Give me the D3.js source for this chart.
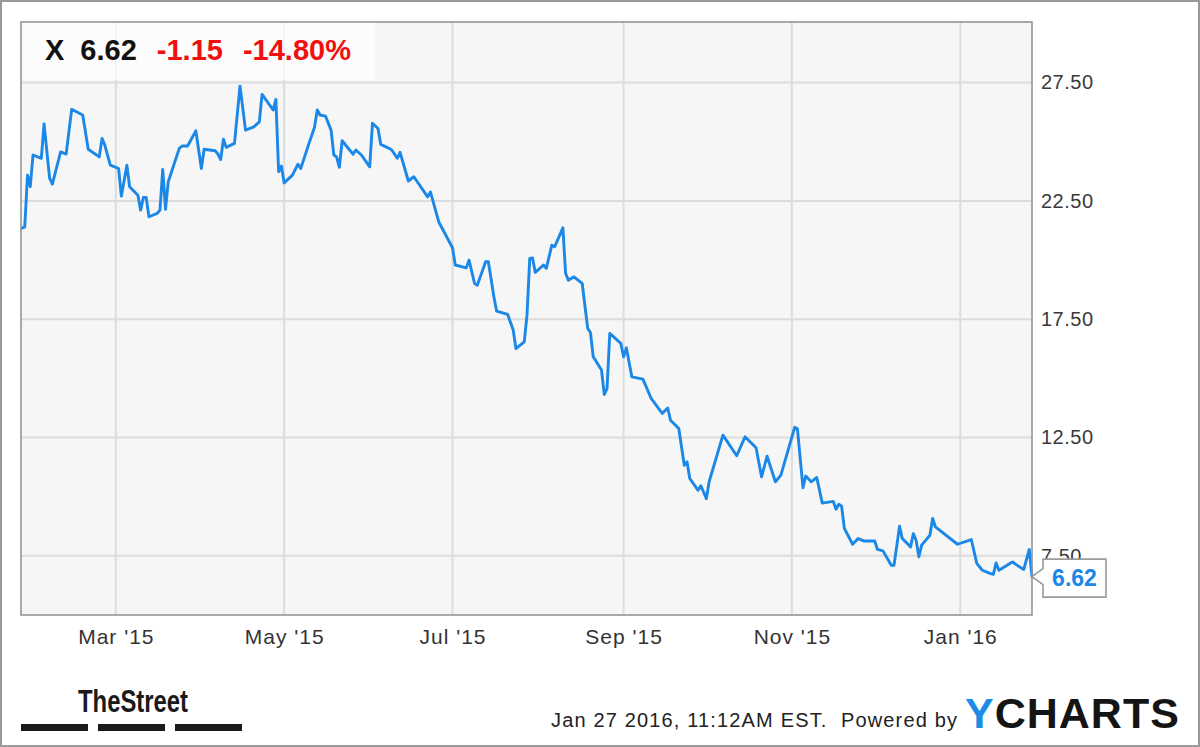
<!DOCTYPE html>
<html><head><meta charset="utf-8">
<script src="https://cdn.jsdelivr.net/npm/d3@7"></script>
<style>
body{margin:0;background:#fff}
svg{display:block}
text{font-family:"Liberation Sans",Arial,Helvetica,sans-serif}
</style></head>
<body><svg id="c" width="1200" height="747"></svg>
<script>
// ---- data ----
const ticker = "X";
const lastPriceLabel = "6.62";
const changeLabel = "-1.15";
const changePctLabel = "-14.80%";
const yTicks = [7.5, 12.5, 17.5, 22.5, 27.5];
const xTicks = ["2015-03-01","2015-05-01","2015-07-01","2015-09-01","2015-11-01","2016-01-01"];
const footerText = "Jan 27 2016, 11:12AM EST.  Powered by";
const dates = [
"2015-01-26","2015-01-27","2015-01-28","2015-01-29","2015-01-30",
"2015-02-02","2015-02-03","2015-02-05","2015-02-06","2015-02-09","2015-02-11","2015-02-13","2015-02-17","2015-02-19","2015-02-23","2015-02-24","2015-02-25","2015-02-27",
"2015-03-02","2015-03-03","2015-03-05","2015-03-06","2015-03-09","2015-03-10","2015-03-11","2015-03-12","2015-03-13","2015-03-16","2015-03-17","2015-03-18","2015-03-19","2015-03-20","2015-03-24","2015-03-25","2015-03-27","2015-03-30",
"2015-04-01","2015-04-02","2015-04-06","2015-04-07","2015-04-08","2015-04-09","2015-04-10","2015-04-13","2015-04-15","2015-04-17","2015-04-20","2015-04-22","2015-04-23","2015-04-27","2015-04-28","2015-04-29","2015-04-30",
"2015-05-01","2015-05-04","2015-05-06","2015-05-07","2015-05-10","2015-05-12","2015-05-13","2015-05-14","2015-05-16","2015-05-18","2015-05-19","2015-05-20","2015-05-21","2015-05-22","2015-05-26","2015-05-27","2015-05-29",
"2015-06-01","2015-06-02","2015-06-04","2015-06-05","2015-06-08","2015-06-09","2015-06-11","2015-06-12","2015-06-15","2015-06-17","2015-06-22","2015-06-23","2015-06-26",
"2015-07-01","2015-07-02","2015-07-06","2015-07-07","2015-07-09","2015-07-10","2015-07-13","2015-07-14","2015-07-16","2015-07-17","2015-07-21","2015-07-23","2015-07-24","2015-07-27","2015-07-28","2015-07-29","2015-07-30","2015-07-31",
"2015-08-03","2015-08-04","2015-08-06","2015-08-07","2015-08-10","2015-08-11","2015-08-12","2015-08-14","2015-08-17","2015-08-19","2015-08-20","2015-08-21","2015-08-24","2015-08-25","2015-08-26","2015-08-27","2015-08-31",
"2015-09-01","2015-09-02","2015-09-04","2015-09-08","2015-09-11","2015-09-15","2015-09-17","2015-09-18","2015-09-21","2015-09-23","2015-09-24","2015-09-25","2015-09-28","2015-09-29",
"2015-10-01","2015-10-02","2015-10-07","2015-10-12","2015-10-15","2015-10-19","2015-10-21","2015-10-23","2015-10-26","2015-10-28",
"2015-11-02","2015-11-03","2015-11-05","2015-11-06","2015-11-08","2015-11-10","2015-11-12","2015-11-16","2015-11-17","2015-11-18","2015-11-19","2015-11-20","2015-11-23","2015-11-25","2015-11-27",
"2015-12-01","2015-12-02","2015-12-04","2015-12-07","2015-12-08","2015-12-10","2015-12-11","2015-12-14","2015-12-15","2015-12-16","2015-12-17","2015-12-18","2015-12-21","2015-12-22","2015-12-23","2015-12-31",
"2016-01-05","2016-01-07","2016-01-09","2016-01-12","2016-01-13","2016-01-14","2016-01-15","2016-01-19","2016-01-20","2016-01-21","2016-01-24","2016-01-26","2016-01-27"
];
const prices = [
21.35,21.40,23.59,23.10,24.44,
24.30,25.75,23.46,23.21,24.57,24.48,26.37,26.13,24.68,24.36,25.14,24.86,24.01,
23.87,22.70,24.01,23.10,22.74,22.11,22.65,22.65,21.83,21.97,22.11,23.83,22.14,23.31,24.72,24.82,24.82,25.46,
23.87,24.68,24.62,24.48,24.25,25.11,24.76,24.93,27.35,25.49,25.63,25.84,27.00,26.34,26.79,23.73,23.97,
23.26,23.59,24.05,23.87,24.93,25.61,26.34,26.13,26.08,25.49,24.44,24.36,23.92,25.04,24.47,24.65,24.44,
23.94,25.78,25.56,24.89,24.72,24.65,24.30,24.55,23.34,23.52,22.67,22.88,21.62,
20.52,19.79,19.67,20.00,19.01,18.94,19.93,19.93,18.45,17.84,17.70,17.04,16.26,16.54,17.67,20.07,20.09,19.48,
19.79,19.65,20.63,20.56,21.36,19.43,19.15,19.29,19.01,17.11,16.94,15.91,15.35,14.32,14.57,16.90,16.48,
15.91,16.29,15.06,14.97,14.15,13.52,13.75,13.23,12.88,11.33,11.47,10.77,10.27,10.46,
9.92,10.63,12.60,11.73,12.53,12.07,10.84,11.71,10.63,10.91,
12.93,12.87,10.38,10.87,10.63,10.81,9.73,9.80,9.47,9.68,9.60,8.66,7.99,8.23,8.13,
8.13,7.77,7.71,7.10,7.10,8.75,8.23,7.88,8.44,8.16,7.46,7.95,8.37,9.08,8.72,7.99,
8.19,7.18,6.89,6.75,6.72,7.20,6.89,7.18,7.24,7.15,6.92,7.77,6.62
];

// ---- chart ----
const parse = d3.utcParse("%Y-%m-%d");
const data = dates.map((d, i) => ({date: parse(d), value: prices[i]}));
const svg = d3.select("#c");
const W = 1200, H = 747;
const P = {l: 21, t: 22, r: 1032, b: 615};
const lineColor = "#1b87e6";

const x = d3.scaleUtc().domain([parse("2015-01-26"), parse("2016-01-27")]).range([P.l + 1, P.r]);
const y = d3.scaleLinear().domain([5, 30.06]).range([P.b, P.t]);

// outer frame
svg.append("rect").attr("x", 1).attr("y", 1).attr("width", W - 2).attr("height", H - 2)
  .attr("fill", "#fff").attr("stroke", "#9a9a9a").attr("stroke-width", 2);

// plot background
svg.append("rect").attr("x", P.l).attr("y", P.t).attr("width", P.r - P.l).attr("height", P.b - P.t)
  .attr("fill", "#f6f6f6");

// grid
const grid = svg.append("g");
grid.selectAll("line.h").data(yTicks).join("line")
  .attr("x1", P.l).attr("x2", P.r).attr("y1", d => y(d)).attr("y2", d => y(d))
  .attr("stroke", "#dcdcdc").attr("stroke-width", 2);
grid.selectAll("line.v").data(xTicks.map(parse)).join("line")
  .attr("y1", P.t).attr("y2", P.b).attr("x1", d => x(d)).attr("x2", d => x(d))
  .attr("stroke", "#dcdcdc").attr("stroke-width", 2);

// header box
svg.append("rect").attr("x", P.l).attr("y", P.t).attr("width", 354).attr("height", 58)
  .attr("fill", "#ffffff").attr("opacity", 0.65);

// line
svg.append("path").datum(data)
  .attr("fill", "none").attr("stroke", lineColor).attr("stroke-width", 2.9)
  .attr("stroke-linejoin", "round").attr("stroke-linecap", "round")
  .attr("d", d3.line().x(d => x(d.date)).y(d => y(d.value)));

// plot border
svg.append("rect").attr("x", P.l).attr("y", P.t).attr("width", P.r - P.l).attr("height", P.b - P.t)
  .attr("fill", "none").attr("stroke", "#959595").attr("stroke-width", 1.6);

// axes
const yAxis = svg.append("g").attr("transform", `translate(${P.r},0)`)
  .call(d3.axisRight(y).tickValues(yTicks).tickFormat(d3.format(".2f")).tickSize(0).tickPadding(9));
yAxis.select(".domain").remove();
yAxis.selectAll("text").attr("font-size", 20).attr("fill", "#3a3a3a")
  .attr("font-family", "Liberation Sans, Arial, sans-serif").attr("letter-spacing", 0.5);

const xAxis = svg.append("g").attr("transform", `translate(0,${P.b})`)
  .call(d3.axisBottom(x).tickValues(xTicks.map(parse)).tickFormat(d3.utcFormat("%b '%y")).tickSize(0).tickPadding(14));
xAxis.select(".domain").remove();
xAxis.selectAll("text").attr("font-size", 21).attr("fill", "#333")
  .attr("font-family", "Liberation Sans, Arial, sans-serif").attr("letter-spacing", 1);

// header text
const head = svg.append("text").attr("x", 45).attr("y", 60)
  .attr("font-size", 29).attr("font-weight", "bold");
head.append("tspan").attr("fill", "#111").text(ticker);
head.append("tspan").attr("dx", 16).attr("fill", "#111").text(lastPriceLabel);
head.append("tspan").attr("dx", 20).attr("fill", "#f01010").text(changeLabel);
head.append("tspan").attr("dx", 20).attr("fill", "#f01010").text(changePctLabel);

// last value callout
const last = data[data.length - 1];
const lx = x(last.date), ly = y(last.value);
const bx = lx + 11, bw = 63, bt = ly - 17.5, bh = 38;
svg.append("path")
  .attr("d", `M${lx},${ly} L${bx},${ly - 8} L${bx},${bt} L${bx + bw},${bt} L${bx + bw},${bt + bh} L${bx},${bt + bh} L${bx},${ly + 8} Z`)
  .attr("fill", "#fff").attr("stroke", "#9a9a9a").attr("stroke-width", 1.6);
svg.append("text").attr("x", bx + bw / 2).attr("y", ly + 9.5).attr("text-anchor", "middle")
  .attr("font-size", 23).attr("font-weight", "bold").attr("fill", lineColor).text(lastPriceLabel);

// footer: TheStreet logo
svg.append("text").attr("x", 78).attr("y", 712)
  .attr("font-size", 31).attr("font-weight", "bold").attr("fill", "#1a1a1a")
  .attr("textLength", 110).attr("lengthAdjust", "spacingAndGlyphs")
  .text("TheStreet");
const barX = [21, 98, 175];
svg.selectAll("rect.bar").data(barX).join("rect").attr("class", "bar")
  .attr("x", d => d).attr("y", 724).attr("width", 67).attr("height", 7).attr("fill", "#1a1a1a");

// footer: timestamp + YCHARTS
svg.append("text").attr("x", 551).attr("y", 727).attr("font-size", 20).attr("fill", "#222")
  .attr("textLength", 406).attr("lengthAdjust", "spacing")
  .style("white-space", "pre").text(footerText);
const yc = svg.append("text").attr("x", 965).attr("y", 728).attr("font-size", 43)
  .attr("font-weight", "bold").attr("letter-spacing", 1);
yc.append("tspan").attr("fill", "#1a8de6").text("Y");
yc.append("tspan").attr("fill", "#141414").text("CHARTS");
</script></body></html>
